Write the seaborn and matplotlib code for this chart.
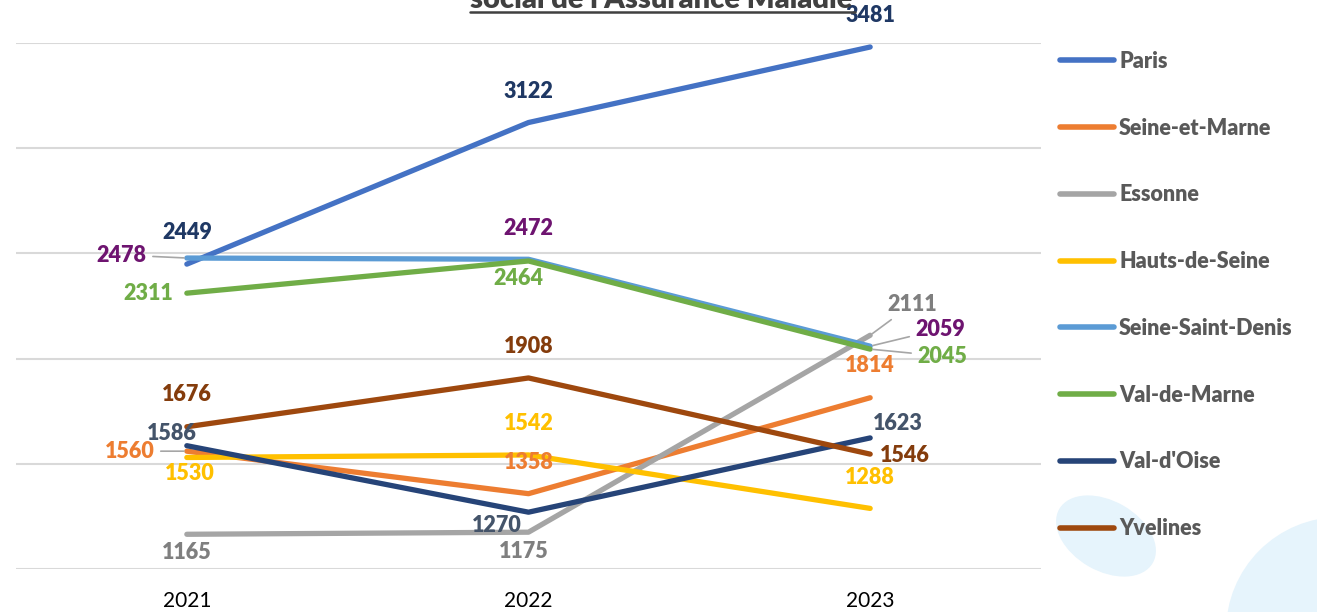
import matplotlib
matplotlib.use("Agg")
import matplotlib.pyplot as plt
import seaborn as sns
import pandas as pd
from matplotlib.lines import Line2D
from matplotlib.patches import Ellipse, Circle

# ---- data -------------------------------------------------------------
years = [2021, 2022, 2023]
departements = ["Paris", "Seine-et-Marne", "Essonne", "Hauts-de-Seine",
                "Seine-Saint-Denis", "Val-de-Marne", "Val-d'Oise", "Yvelines"]
paris = [2449, 3122, 3481]
seine_et_marne = [1560, 1358, 1814]
essonne = [1165, 1175, 2111]
hauts_de_seine = [1530, 1542, 1288]
seine_saint_denis = [2478, 2472, 2059]
val_de_marne = [2311, 2464, 2045]
val_d_oise = [1586, 1270, 1623]
yvelines = [1676, 1908, 1546]
series = [paris, seine_et_marne, essonne, hauts_de_seine,
          seine_saint_denis, val_de_marne, val_d_oise, yvelines]

line_colors = ["#4472C4", "#ED7D31", "#A5A5A5", "#FFC000",
               "#5B9BD5", "#70AD47", "#264478", "#9E480E"]
label_colors = ["#1F3864", "#ED7D31", "#7F7F7F", "#FFC000",
                "#6E1470", "#70AD47", "#44546A", "#843C0C"]

# label placement (pixel offsets from each point, +y is up)
label_offsets = [
    [(0, 32), (0, 31), (0, 31)],
    [(-57, 0), (0, 31), (0, 32)],
    [(0, -18), (-5, -19), (42, 31)],
    [(3, -16), (0, 31), (0, 31)],
    [(-65, 3), (0, 31), (70, 17)],
    [(-39, 0), (-10, -18), (72, -7)],
    [(-15, 12), (-32, -13), (28, 14)],
    [(0, 32), (0, 31), (35, -1)],
]
leader_lines = {(1, 0), (4, 0), (2, 2), (4, 2), (5, 2)}

df = pd.DataFrame(
    [(d, y, v) for d, vals in zip(departements, series) for y, v in zip(years, vals)],
    columns=["departement", "annee", "valeur"],
)

# ---- figure -------------------------------------------------------------
sns.set_theme(style="white")
plt.rcParams["font.family"] = ["Lato", "DejaVu Sans"]

W, H = 1317, 612
fig = plt.figure(figsize=(W / 100, H / 100), dpi=100)

# decorative background shapes
bg = fig.add_axes([0, 0, 1, 1], zorder=0)
bg.set_xlim(0, W)
bg.set_ylim(H, 0)
bg.axis("off")
bg.add_patch(Ellipse((1106, 536), 108, 70, angle=30, color="#E6F4FC", lw=0))
bg.add_patch(Circle((1340, 631), 114, color="#E6F4FC", lw=0))

ax = fig.add_axes([16 / W, 1 - 569 / H, 1025 / W, 526 / H], zorder=1)
ax.set_facecolor("none")

sns.lineplot(data=df, x="annee", y="valeur", hue="departement",
             hue_order=departements, palette=line_colors, linewidth=3.8,
             legend=False, sort=False, ax=ax)
for ln in ax.lines:
    ln.set_solid_capstyle("round")

ax.set_xlim(2020.5, 2023.5)
ax.set_ylim(1000, 3500)
ax.set_yticks(range(1000, 3501, 500))
ax.set_yticklabels([])
ax.set_xticks(years)
ax.set_xticklabels([str(y) for y in years], fontsize=15, color="#000000")
ax.tick_params(axis="x", length=0, pad=16)
ax.tick_params(axis="y", length=0)
ax.grid(axis="y", color="#D9D9D9", linewidth=1.5)
ax.grid(axis="x", visible=False)
ax.set_axisbelow(True)
ax.set_xlabel("")
ax.set_ylabel("")
for s in ax.spines.values():
    s.set_visible(False)

# data labels
for i, vals in enumerate(series):
    for j, (yr, v) in enumerate(zip(years, vals)):
        dx, dy = label_offsets[i][j]
        kw = {}
        if (i, j) in leader_lines:
            kw["arrowprops"] = dict(arrowstyle="-", color="#A6A6A6", lw=1.2,
                                    shrinkA=2, shrinkB=2)
        ax.annotate(str(v), xy=(yr, v), xytext=(dx, dy),
                    textcoords="offset pixels", ha="center", va="center",
                    fontsize=15.5, fontweight="heavy", color=label_colors[i],
                    zorder=5, **kw)

# legend
handles = [Line2D([0], [0], color=c, lw=4, solid_capstyle="round")
           for c in line_colors]
leg = fig.legend(handles, departements, loc="upper left",
                 bbox_to_anchor=(1060 / W, 1 - 51 / H), frameon=False,
                 fontsize=15.5, handlelength=2.5, handletextpad=0.25,
                 labelspacing=2.125, borderpad=0, borderaxespad=0)
for t in leg.get_texts():
    t.set_color("#595959")
    t.set_fontweight("heavy")

# title (upper lines fall outside the canvas)
fig.text(661 / W, 1 - 8 / H, "social de l'Assurance Maladie", ha="center",
         va="baseline", fontsize=21, fontweight="heavy", color="#404040")
fig.add_artist(Line2D([470 / W, 855 / W], [1 - 12 / H, 1 - 12 / H],
                      color="#404040", lw=1.8, transform=fig.transFigure))

fig.savefig("out.png", dpi=100)
